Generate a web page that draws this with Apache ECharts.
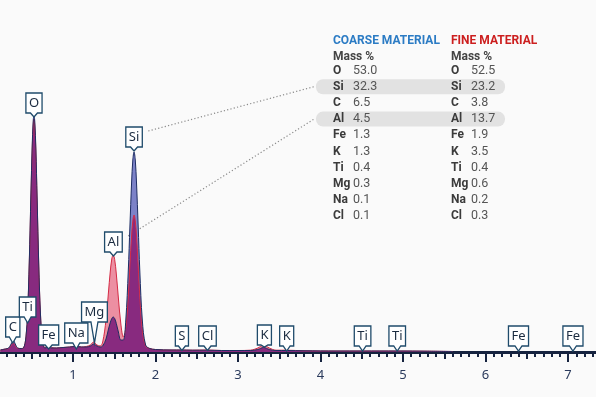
<!DOCTYPE html>
<html>
<head>
<meta charset="utf-8">
<script src="https://cdn.jsdelivr.net/npm/echarts@6/dist/echarts.min.js"></script>
<style>
html, body { margin: 0; padding: 0; background: #fafafa; }
#chart { width: 596px; height: 397px; }
</style>
</head>
<body>
<div id="chart"></div>
<script>
// energy axis (keV), shared by both spectra
const energy = [
  0.12, 0.18, 0.22, 0.25, 0.277, 0.30, 0.33, 0.37,
  0.40, 0.43, 0.45, 0.47, 0.49, 0.505, 0.517, 0.527, 0.537, 0.55, 0.565, 0.585, 0.605, 0.63, 0.66,
  0.705, 0.74, 0.80, 0.88, 0.96, 1.04, 1.10, 1.16, 1.21, 1.25, 1.29, 1.33, 1.36,
  1.40, 1.43, 1.45, 1.47, 1.487, 1.505, 1.525, 1.55, 1.58, 1.61, 1.64, 1.67, 1.69, 1.71, 1.725, 1.74, 1.755, 1.77, 1.79, 1.81, 1.84, 1.88, 1.93,
  2.0, 2.2, 2.31, 2.45, 2.62, 2.8, 3.0, 3.15, 3.24, 3.31, 3.38, 3.46, 3.59, 3.8, 4.2, 4.51, 4.93, 5.3, 5.6
];
// coarse material counts
const coarseCounts = [
  2, 3, 4, 8, 12, 8, 4, 3.5,
  4, 15, 40, 90, 158, 205, 230, 237, 230, 203, 154, 87, 39, 11, 4,
  5, 4, 4, 4.5, 5, 5.5, 5, 5, 6, 8, 6, 5, 6,
  13, 23, 29, 33.5, 35, 33.5, 28.5, 20, 12, 12, 32, 81, 126, 169, 192, 200, 192, 169, 126, 81, 32, 7, 3.5,
  2.5, 2, 2, 1.8, 1.8, 1.5, 1.5, 1.5, 2.5, 4.5, 2.5, 1.5, 1.5, 1.2, 1, 1, 1, 0.8, 0.5
];
// fine material counts
const fineCounts = [
  2, 3, 3.5, 6.5, 9, 6.5, 3.5, 3.5,
  4, 15, 39, 88, 155, 201, 226, 233, 226, 200, 151, 86, 39, 11, 4.5,
  6.5, 4.5, 4, 4.5, 5, 6, 5, 5.5, 7, 10, 7, 6, 10,
  32, 60, 79, 93, 97, 92.5, 78, 54, 28, 15, 24, 56, 87, 116, 131, 137, 131, 116, 86, 55, 22, 6, 3.5,
  2.5, 2, 2, 1.8, 2, 1.5, 1.5, 1.8, 4, 7, 4, 1.8, 1.8, 1.2, 1, 1, 1, 0.8, 0.5
];

// peak markers: name, energy, tip height, box bottom height
const peakNames = ['C', 'Ti', 'O', 'Fe', 'Na', 'Mg', 'Al', 'Si', 'S', 'Cl', 'K', 'K', 'Ti', 'Ti', 'Fe', 'Fe'];
const peakEnergy = [0.27, 0.45, 0.527, 0.705, 1.04, 1.26, 1.49, 1.74, 2.32, 2.63, 3.32, 3.59, 4.51, 4.93, 6.40, 7.06];
const peakTip = [9, 29, 235, 3, 3, 9, 96, 201, 1.5, 1.5, 5, 1, 1, 1, 1, 1];
const peakBox = [15, 35, 239, 7, 9, 30, 100, 205, 6, 6, 7, 6, 6, 6, 6, 6];

// composition table
const elements = ['O', 'Si', 'C', 'Al', 'Fe', 'K', 'Ti', 'Mg', 'Na', 'Cl'];
const coarseMass = ['53.0', '32.3', '6.5', '4.5', '1.3', '1.3', '0.4', '0.3', '0.1', '0.1'];
const fineMass = ['52.5', '23.2', '3.8', '13.7', '1.9', '3.5', '0.4', '0.6', '0.2', '0.3'];
const highlighted = ['Si', 'Al'];

const coarseData = energy.map((e, i) => [e, coarseCounts[i]]);
const fineData = energy.map((e, i) => [e, fineCounts[i]]);
// where both spectra overlap
const bothData = energy.map((e, i) => [e, Math.min(coarseCounts[i], fineCounts[i])]);

const labelFont = '13px "Noto Sans"';
const ctx = document.createElement('canvas').getContext('2d');
function textWidth(s) {
  ctx.font = labelFont;
  return ctx.measureText(s).width;
}

function renderCallout(params, api) {
  const i = params.dataIndex;
  const tip = api.coord([api.value(0), api.value(1)]);
  const base = api.coord([api.value(0), api.value(2)]);
  const name = peakNames[i];
  const w = textWidth(name) + 6;
  const h = 20;
  const cx = tip[0], b = base[1], t = b - h;
  const l = cx - w / 2, r = cx + w / 2;
  return {
    type: 'group',
    children: [
      {
        type: 'polygon',
        shape: { points: [[l, t], [r, t], [r, b], [cx + 3.5, b], [cx, tip[1]], [cx - 3.5, b], [l, b]] },
        style: { fill: '#ffffff', stroke: '#1f4b6b', lineWidth: 1.3 }
      },
      {
        type: 'text',
        x: cx, y: t + h / 2 + 0.5,
        style: { text: name, fill: '#1b2b40', font: labelFont, align: 'center', verticalAlign: 'middle' }
      }
    ]
  };
}

const axisColor = '#16233f';

function areaSeries(data, color) {
  return {
    type: 'line', data: data, smooth: 0.35, symbol: 'none',
    lineStyle: { width: 0 }, areaStyle: { color: color, opacity: 1 }, silent: true
  };
}
function lineSeries(data, color) {
  return {
    type: 'line', data: data, smooth: 0.35, symbol: 'none',
    lineStyle: { width: 1, color: color }, silent: true
  };
}

const chart = echarts.init(document.getElementById('chart'));
const option = {
  backgroundColor: '#fafafa',
  animation: false,
  grid: { left: -9.5, right: -54.5, top: 0, bottom: 45, outerBoundsMode: 'none', containLabel: false },
  xAxis: [
    {
      type: 'value', min: 0, max: 8, interval: 1, position: 'bottom',
      axisLine: { show: true, onZero: false, lineStyle: { color: axisColor, width: 3 } },
      axisTick: { show: true, length: 10, lineStyle: { color: axisColor, width: 2 } },
      minorTick: { show: true, splitNumber: 10, length: 5, lineStyle: { color: axisColor, width: 2 } },
      axisLabel: { color: '#2a3a5c', fontSize: 13, margin: 17, fontFamily: 'Noto Sans', showMinLabel: false },
      splitLine: { show: false }
    },
    {
      type: 'value', min: 0, max: 8, interval: 0.5, position: 'bottom',
      axisLine: { show: false },
      axisTick: { show: true, length: 7, lineStyle: { color: axisColor, width: 2 } },
      axisLabel: { show: false },
      splitLine: { show: false }
    }
  ],
  yAxis: { type: 'value', min: 0, max: 352, show: false },
  series: [
    areaSeries(coarseData, '#7c82c8'),
    areaSeries(fineData, '#ec8fa2'),
    areaSeries(bothData, '#882a7f'),
    lineSeries(fineData, '#d42a44'),
    lineSeries(coarseData, '#1e2d63'),
    {
      type: 'custom',
      renderItem: renderCallout,
      clip: false,
      data: peakEnergy.map((e, i) => [e, peakTip[i], peakBox[i]]),
      encode: { x: 0, y: 1 },
      z: 10
    }
  ]
};
chart.setOption(option);

// table + connectors
const graphics = [];
const rowY0 = 70.5, rowStep = 16.2;
const colC = 333, colF = 451;
const barLeft = 316, barRight = 505;

elements.forEach((el, i) => {
  const y = rowY0 + i * rowStep;
  if (highlighted.includes(el)) {
    graphics.push({
      type: 'rect', shape: { x: barLeft, y: y - 7.5, width: barRight - barLeft, height: 15, r: 7 },
      style: { fill: '#e2e2e2' }, z: 1
    });
  }
  [[colC, coarseMass[i]], [colF, fineMass[i]]].forEach(([x, v]) => {
    graphics.push({
      type: 'text', x: x, y: y, z: 2,
      style: { text: el, fill: '#3b3b3b', font: 'bold 12px Roboto', verticalAlign: 'middle' }
    });
    graphics.push({
      type: 'text', x: x + 20, y: y, z: 2,
      style: { text: v, fill: '#555555', font: '12.5px Roboto', verticalAlign: 'middle' }
    });
  });
});
graphics.push(
  { type: 'text', x: colC, y: 41, style: { text: 'COARSE MATERIAL', fill: '#2b7bc4', font: 'bold 12px Roboto', verticalAlign: 'middle' } },
  { type: 'text', x: colF, y: 41, style: { text: 'FINE MATERIAL', fill: '#cc1f1f', font: 'bold 12px Roboto', verticalAlign: 'middle' } },
  { type: 'text', x: colC, y: 57, style: { text: 'Mass %', fill: '#444444', font: 'bold 12px Roboto', verticalAlign: 'middle' } },
  { type: 'text', x: colF, y: 57, style: { text: 'Mass %', fill: '#444444', font: 'bold 12px Roboto', verticalAlign: 'middle' } }
);

highlighted.forEach(el => {
  const p = peakNames.indexOf(el);
  const row = elements.indexOf(el);
  const pt = chart.convertToPixel({ gridIndex: 0 }, [peakEnergy[p], peakBox[p]]);
  const w = textWidth(el) + 6;
  graphics.push({
    type: 'line',
    shape: { x1: pt[0] + w / 2 + 6, y1: pt[1] - 16, x2: barLeft - 2, y2: rowY0 + row * rowStep },
    style: { stroke: '#8a8a8a', lineWidth: 1.2, lineDash: [1.2, 2.2] },
    z: 1
  });
});

chart.setOption({ graphic: graphics });
</script>
</body>
</html>
